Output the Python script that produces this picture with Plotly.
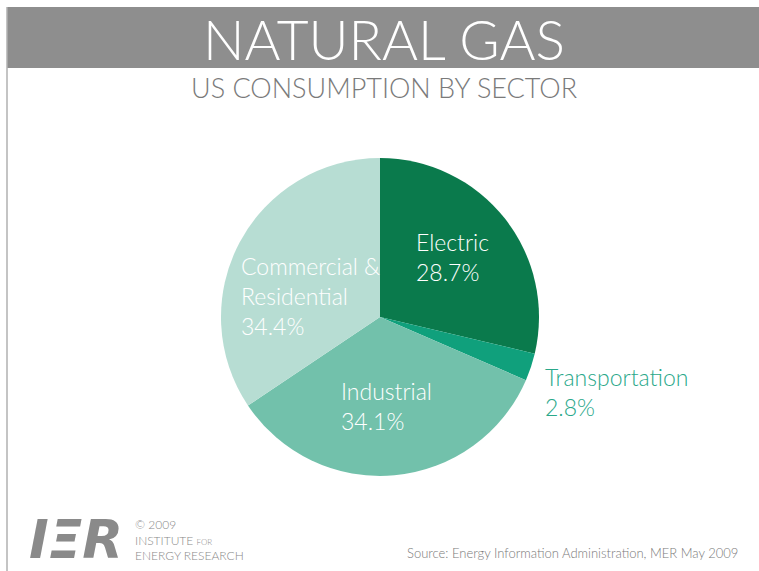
import plotly.graph_objects as go

sectors = ["Electric", "Transportation", "Industrial", "Commercial &<br>Residential"]
shares = [28.7, 2.8, 34.1, 34.4]
colors = ["#0a7a4c", "#10a07c", "#72c1ab", "#b7ddd3"]
label_colors = ["white", "#2aa88a", "white", "white"]
# label anchor positions (px, left edge / vertical middle) for each slice label
label_pos = [(414, 257), (543, 392), (339, 406), (239, 296)]

W, H = 759, 571
cx, cy, r = 380, 317, 159

fig = go.Figure(go.Pie(
    labels=sectors, values=shares, sort=False, direction="clockwise",
    rotation=0, marker=dict(colors=colors, line=dict(width=0)),
    textinfo="none", hoverinfo="label+percent", showlegend=False,
    domain=dict(x=[(cx - r) / W, (cx + r) / W], y=[1 - (cy + r) / H, 1 - (cy - r) / H]),
))

def px(x, y):
    return x / W, 1 - y / H

LIGHT = dict(family="Lato", weight=300)

ann = []
for name, v, c, (x, y) in zip(sectors, shares, label_colors, label_pos):
    xx, yy = px(x, y)
    ann.append(dict(x=xx, y=yy, xref="paper", yref="paper", showarrow=False,
                    xanchor="left", yanchor="middle",
                    text=f"{name}<br>{v:.1f}%", align="left",
                    font=dict(**LIGHT, size=23, color=c)))

def a(x, y, text, xanchor="center", **font):
    xx, yy = px(x, y)
    return dict(x=xx, y=yy, xref="paper", yref="paper", showarrow=False,
                xanchor=xanchor, yanchor="middle", align="left", text=text, font=font)

fig.update_layout(
    width=W, height=H, margin=dict(l=0, r=0, t=0, b=0),
    paper_bgcolor="white", plot_bgcolor="white",
    shapes=[
        dict(type="rect", xref="paper", yref="paper", x0=7 / W, x1=1, y0=1 - 68 / H, y1=1 - 7 / H,
             fillcolor="#8e8e8e", line=dict(width=0), layer="below"),
        dict(type="line", xref="paper", yref="paper", x0=7 / W, x1=7 / W, y0=0, y1=1 - 7 / H,
             line=dict(color="#b0b0b0", width=1.5)),
    ],
    annotations=ann + [
        a(384, 39, "NATURAL GAS", **LIGHT, size=55, color="white"),
        a(384, 88, "US CONSUMPTION BY SECTOR", **LIGHT, size=27, color="#7a7a7a"),
        a(27, 539, "<b><i>IΞR</i></b>", xanchor="left", family="DejaVu Sans", size=53, color="#8a8a8a"),
        a(133, 540, "© 2009<br>INSTITUTE <span style='font-size:8px'>FOR</span><br>ENERGY RESEARCH",
          xanchor="left", **LIGHT, size=12, color="#8a8a8a"),
        a(740, 553, "Source: Energy Information Administration, MER May 2009", xanchor="right",
          **LIGHT, size=13, color="#7a7a7a"),
    ],
)

fig.write_html("out.html", config={"displayModeBar": False},
               post_script="document.body.style.margin='0';")
